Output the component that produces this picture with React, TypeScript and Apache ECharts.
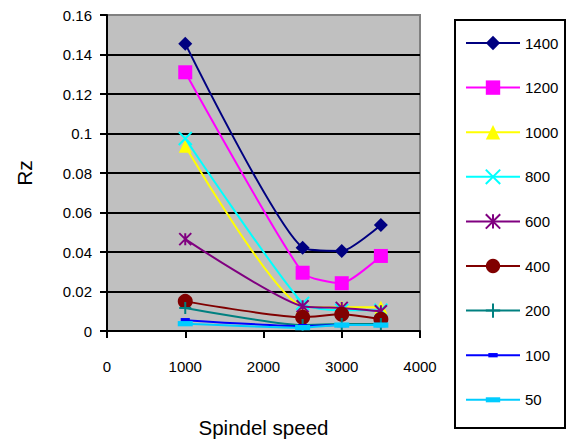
import React, { useEffect, useRef } from "react";
import * as echarts from "echarts";

const speeds = [1000, 2500, 3000, 3500];
const seriesNames = ["1400", "1200", "1000", "800", "600", "400", "200", "100", "50"];
const s1400 = [0.1455, 0.0422, 0.0405, 0.0537];
const s1200 = [0.131, 0.0295, 0.0242, 0.038];
const s1000 = [0.0935, 0.0125, 0.012, 0.012];
const s800 = [0.0975, 0.014, 0.0105, 0.0105];
const s600 = [0.0465, 0.0125, 0.0117, 0.0100];
const s400 = [0.015, 0.007, 0.0085, 0.006];
const s200 = [0.0117, 0.003, 0.0035, 0.0035];
const s100 = [0.0055, 0.0025, 0.003, 0.003];
const s50 = [0.0037, 0.0017, 0.003, 0.003];
const xTicks = [0, 1000, 2000, 3000, 4000];
const yTicks = [0, 0.02, 0.04, 0.06, 0.08, 0.1, 0.12, 0.14, 0.16];

const values = [s1400, s1200, s1000, s800, s600, s400, s200, s100, s50];
const colors = ["#000080", "#FF00FF", "#FFFF00", "#00FFFF", "#800080", "#800000", "#008080", "#0000FF", "#00CCFF"];
const symbols: any[] = [
  "diamond",
  "rect",
  "triangle",
  "path://M0,0L10,10M10,0L0,10",
  "path://M5,0L5,10M0,0L10,10M10,0L0,10",
  "circle",
  "path://M5,0L5,10M0,5L10,5",
  "path://M0,0M20,20M3.5,7L16.5,7L16.5,13L3.5,13Z",
  "path://M0,0M20,20M0,6.5L20,6.5L20,13.5L0,13.5Z",
];
const sizes: any[] = [14, 14, 13, 13, 12, 15, 12, 14, 15];

export default function App() {
  const ref = useRef<HTMLDivElement>(null);
  useEffect(() => {
    const chart = echarts.init(ref.current!, null, { renderer: "svg" });
    const font = "'Liberation Sans', Arial, sans-serif";
    const series = seriesNames.map((name, i) => ({
      name,
      type: "line",
      data: speeds.map((x, j) => [x, values[i][j]]),
      smooth: 0.2,
      symbol: symbols[i],
      symbolSize: sizes[i],
      lineStyle: { color: colors[i], width: 2 },
      itemStyle: { color: colors[i], borderColor: colors[i], borderWidth: i === 3 || i === 4 || i === 6 ? 2 : 0 },
      z: 2 + i,
    }));
    chart.setOption({
      animation: false,
      textStyle: { fontFamily: font },
      graphic: [
        {
          type: "rect",
          shape: { x: 455, y: 20, width: 110, height: 408 },
          style: { fill: "#fff", stroke: "#000", lineWidth: 2 },
          z: -1,
        },
      ],
      legend: {
        orient: "vertical",
        left: 465,
        top: 34,
        padding: 0,
        itemWidth: 54,
        itemHeight: 18,
        itemGap: 26.6,
        textStyle: { fontSize: 15, lineHeight: 18, color: "#000", fontFamily: font },
        data: seriesNames,
      },
      grid: {
        left: 107,
        top: 15,
        right: 154,
        bottom: 108,
        show: true,
        backgroundColor: "#C0C0C0",
        borderColor: "#808080",
        borderWidth: 2,
      },
      xAxis: {
        type: "value",
        min: xTicks[0],
        max: xTicks[xTicks.length - 1],
        interval: 1000,
        name: "Spindel speed",
        nameLocation: "middle",
        nameGap: 86,
        nameTextStyle: { fontSize: 20.5, color: "#000", fontFamily: font },
        axisLine: { show: true, lineStyle: { color: "#000", width: 2 } },
        axisTick: { show: true, inside: false, length: 7, lineStyle: { color: "#000", width: 2 } },
        axisLabel: { fontSize: 15, color: "#000", margin: 28, fontFamily: font, formatter: (v: number) => String(v) },
        splitLine: { show: false },
      },
      yAxis: {
        type: "value",
        min: yTicks[0],
        max: yTicks[yTicks.length - 1],
        interval: 0.02,
        name: "Rz",
        nameLocation: "middle",
        nameGap: 72,
        nameTextStyle: { fontSize: 21, color: "#000", fontFamily: font },
        axisLine: { show: true, lineStyle: { color: "#000", width: 2 } },
        axisTick: { show: true, inside: false, length: 7, lineStyle: { color: "#000", width: 2 } },
        axisLabel: { fontSize: 15, color: "#000", margin: 15, fontFamily: font, formatter: (v: number) => String(Number(v.toFixed(2))) },
        splitLine: {
          show: true,
          lineStyle: { color: ["#000", "#000", "#000", "#000", "#000", "#000", "#000", "#000", "#808080"], width: 2 },
        },
      },
      series,
    });
    return () => chart.dispose();
  }, []);
  return <div ref={ref} style={{ width: 574, height: 443, position: "absolute", left: 0, top: 0 }} />;
}
